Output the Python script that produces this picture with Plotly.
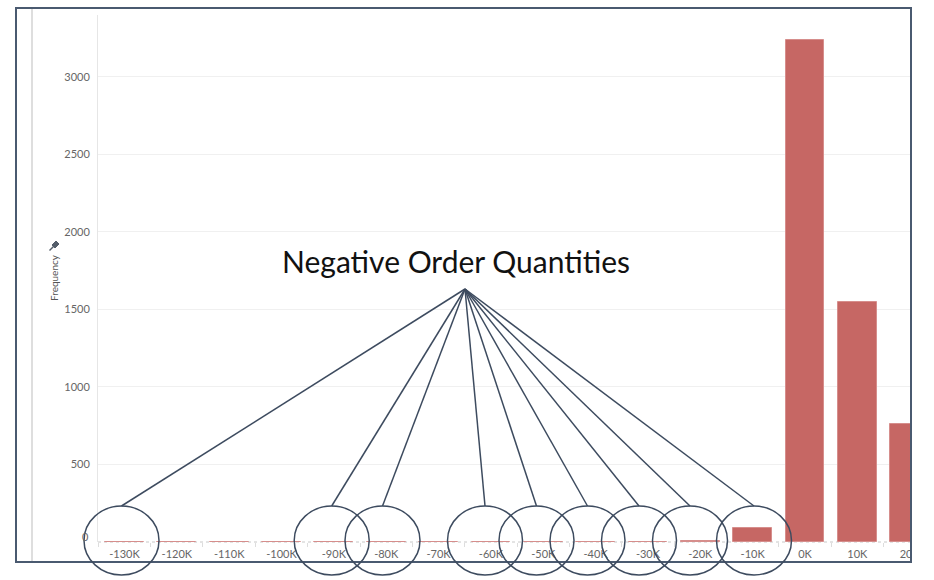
import plotly.graph_objects as go

# ---- data ----
bin_centers = [-130000, -120000, -110000, -100000, -90000, -80000, -70000, -60000,
               -50000, -40000, -30000, -20000, -10000, 0, 10000, 20000]
tick_labels = ["-130K", "-120K", "-110K", "-100K", "-90K", "-80K", "-70K", "-60K",
               "-50K", "-40K", "-30K", "-20K", "-10K", "0K", "10K", "20K"]
frequency = [3, 0, 0, 0, 3, 3, 0, 3, 3, 3, 3, 7, 88, 3235, 1550, 762]
y_ticks = [500, 1000, 1500, 2000, 2500, 3000]
circled_bins = ["-130K", "-90K", "-80K", "-60K", "-50K", "-40K", "-30K", "-20K", "-10K"]

# ---- pixel geometry helpers (plot area in page pixels) ----
W, H = 934, 580
L, R, T, B = 98, 911, 15, 542


def px(x):
    return (x - L) / (R - L)


def py(y):
    return (B - y) / (B - T)


fig = go.Figure()
fig.add_trace(go.Bar(
    x=bin_centers, y=frequency, width=7400,
    marker=dict(color="#C66764", line=dict(color="#D68E8C", width=1)),
    hoverinfo="x+y", showlegend=False,
))

shapes = []
# dotted baseline
shapes.append(dict(type="line", xref="paper", yref="paper", x0=0, x1=1, y0=0, y1=0,
                   line=dict(color="#c8c8c8", width=1, dash="dot"), layer="below"))
# light vertical band at left
shapes.append(dict(type="line", xref="paper", yref="paper", x0=px(32), x1=px(32),
                   y0=py(9), y1=py(561), line=dict(color="#dedede", width=2)))
# white mask on the right (chart is cropped there)
shapes.append(dict(type="rect", xref="paper", yref="paper", x0=px(912), x1=px(940),
                   y0=py(-5), y1=py(585), fillcolor="white", line=dict(width=0), layer="above"))
# frame
shapes.append(dict(type="rect", xref="paper", yref="paper", x0=px(16), x1=px(911),
                   y0=py(562), y1=py(8), line=dict(color="#4a5a70", width=2),
                   fillcolor="rgba(0,0,0,0)", layer="above"))

# annotation circles and leader lines
circle_cx = [121.5, 331.7, 382.5, 485, 536.5, 587.5, 639, 690, 754]
apex = (465, 289)
rx, ry, cy = 37.5, 34.5, 540.5
for cx in circle_cx:
    shapes.append(dict(type="circle", xref="paper", yref="paper",
                       x0=px(cx - rx), x1=px(cx + rx), y0=py(cy + ry), y1=py(cy - ry),
                       line=dict(color="#3d4b5f", width=1.5), layer="above"))
    shapes.append(dict(type="line", xref="paper", yref="paper",
                       x0=px(apex[0]), y0=py(apex[1]), x1=px(cx), y1=py(cy - ry),
                       line=dict(color="#3d4b5f", width=1.5), layer="above"))

# pin icon near axis title
head = [(52, 245), (56, 241), (59, 244), (55, 248)]
path = "M " + " L ".join(f"{px(a)},{py(b)}" for a, b in head) + " Z"
shapes.append(dict(type="path", xref="paper", yref="paper", path=path,
                   fillcolor="#555e6b", line=dict(color="#555e6b", width=1)))
shapes.append(dict(type="line", xref="paper", yref="paper", x0=px(53.5), y0=py(246.5),
                   x1=px(49.5), y1=py(250.5), line=dict(color="#555e6b", width=1.5)))

annotations = [
    dict(text="Negative Order Quantities", xref="paper", yref="paper",
         x=px(456), y=py(261), xanchor="center", yanchor="middle", showarrow=False,
         font=dict(family="Lato", size=30, color="#111111")),
    dict(text="Frequency", xref="paper", yref="paper", x=px(54), y=py(278),
         xanchor="center", yanchor="middle", textangle=-90, showarrow=False,
         font=dict(family="Lato", size=10, color="#555555")),
    dict(text="0", xref="paper", yref="paper", x=px(91), y=py(536),
         xanchor="right", yanchor="middle", showarrow=False,
         font=dict(family="Lato", size=11, color="#666666")),
    dict(text="<b>Quantity Range</b>", xref="paper", yref="paper", x=px(-76), y=py(3),
         xanchor="left", yanchor="bottom", showarrow=False,
         font=dict(family="Lato", size=34, color="#000000")),
]

fig.update_layout(
    width=W, height=H, autosize=False,
    margin=dict(l=L, r=W - R, t=T, b=H - B, pad=0),
    paper_bgcolor="white", plot_bgcolor="white",
    bargap=0, shapes=shapes, annotations=annotations,
    font=dict(family="Lato", size=11, color="#666666"),
    xaxis=dict(range=[-135052, 20248], tickmode="array", tickvals=bin_centers,
               ticktext=tick_labels, showgrid=False, zeroline=False, showline=False,
               ticks="", ticklabelstandoff=4,
               tickfont=dict(family="Lato", size=11, color="#666666"),
               minor=dict(tick0=-5000, dtick=10000, ticks="outside", ticklen=4,
                          tickcolor="#dddddd", showgrid=False)),
    yaxis=dict(range=[0, 3398], tickmode="array", tickvals=y_ticks,
               ticktext=[str(v) for v in y_ticks], showgrid=True, gridcolor="#f0f0f0",
               zeroline=False, showline=True, linecolor="#e6e6e6", linewidth=1,
               ticks="", ticklabelstandoff=5,
               tickfont=dict(family="Lato", size=11, color="#666666")),
)

fig.write_html("out.html")
